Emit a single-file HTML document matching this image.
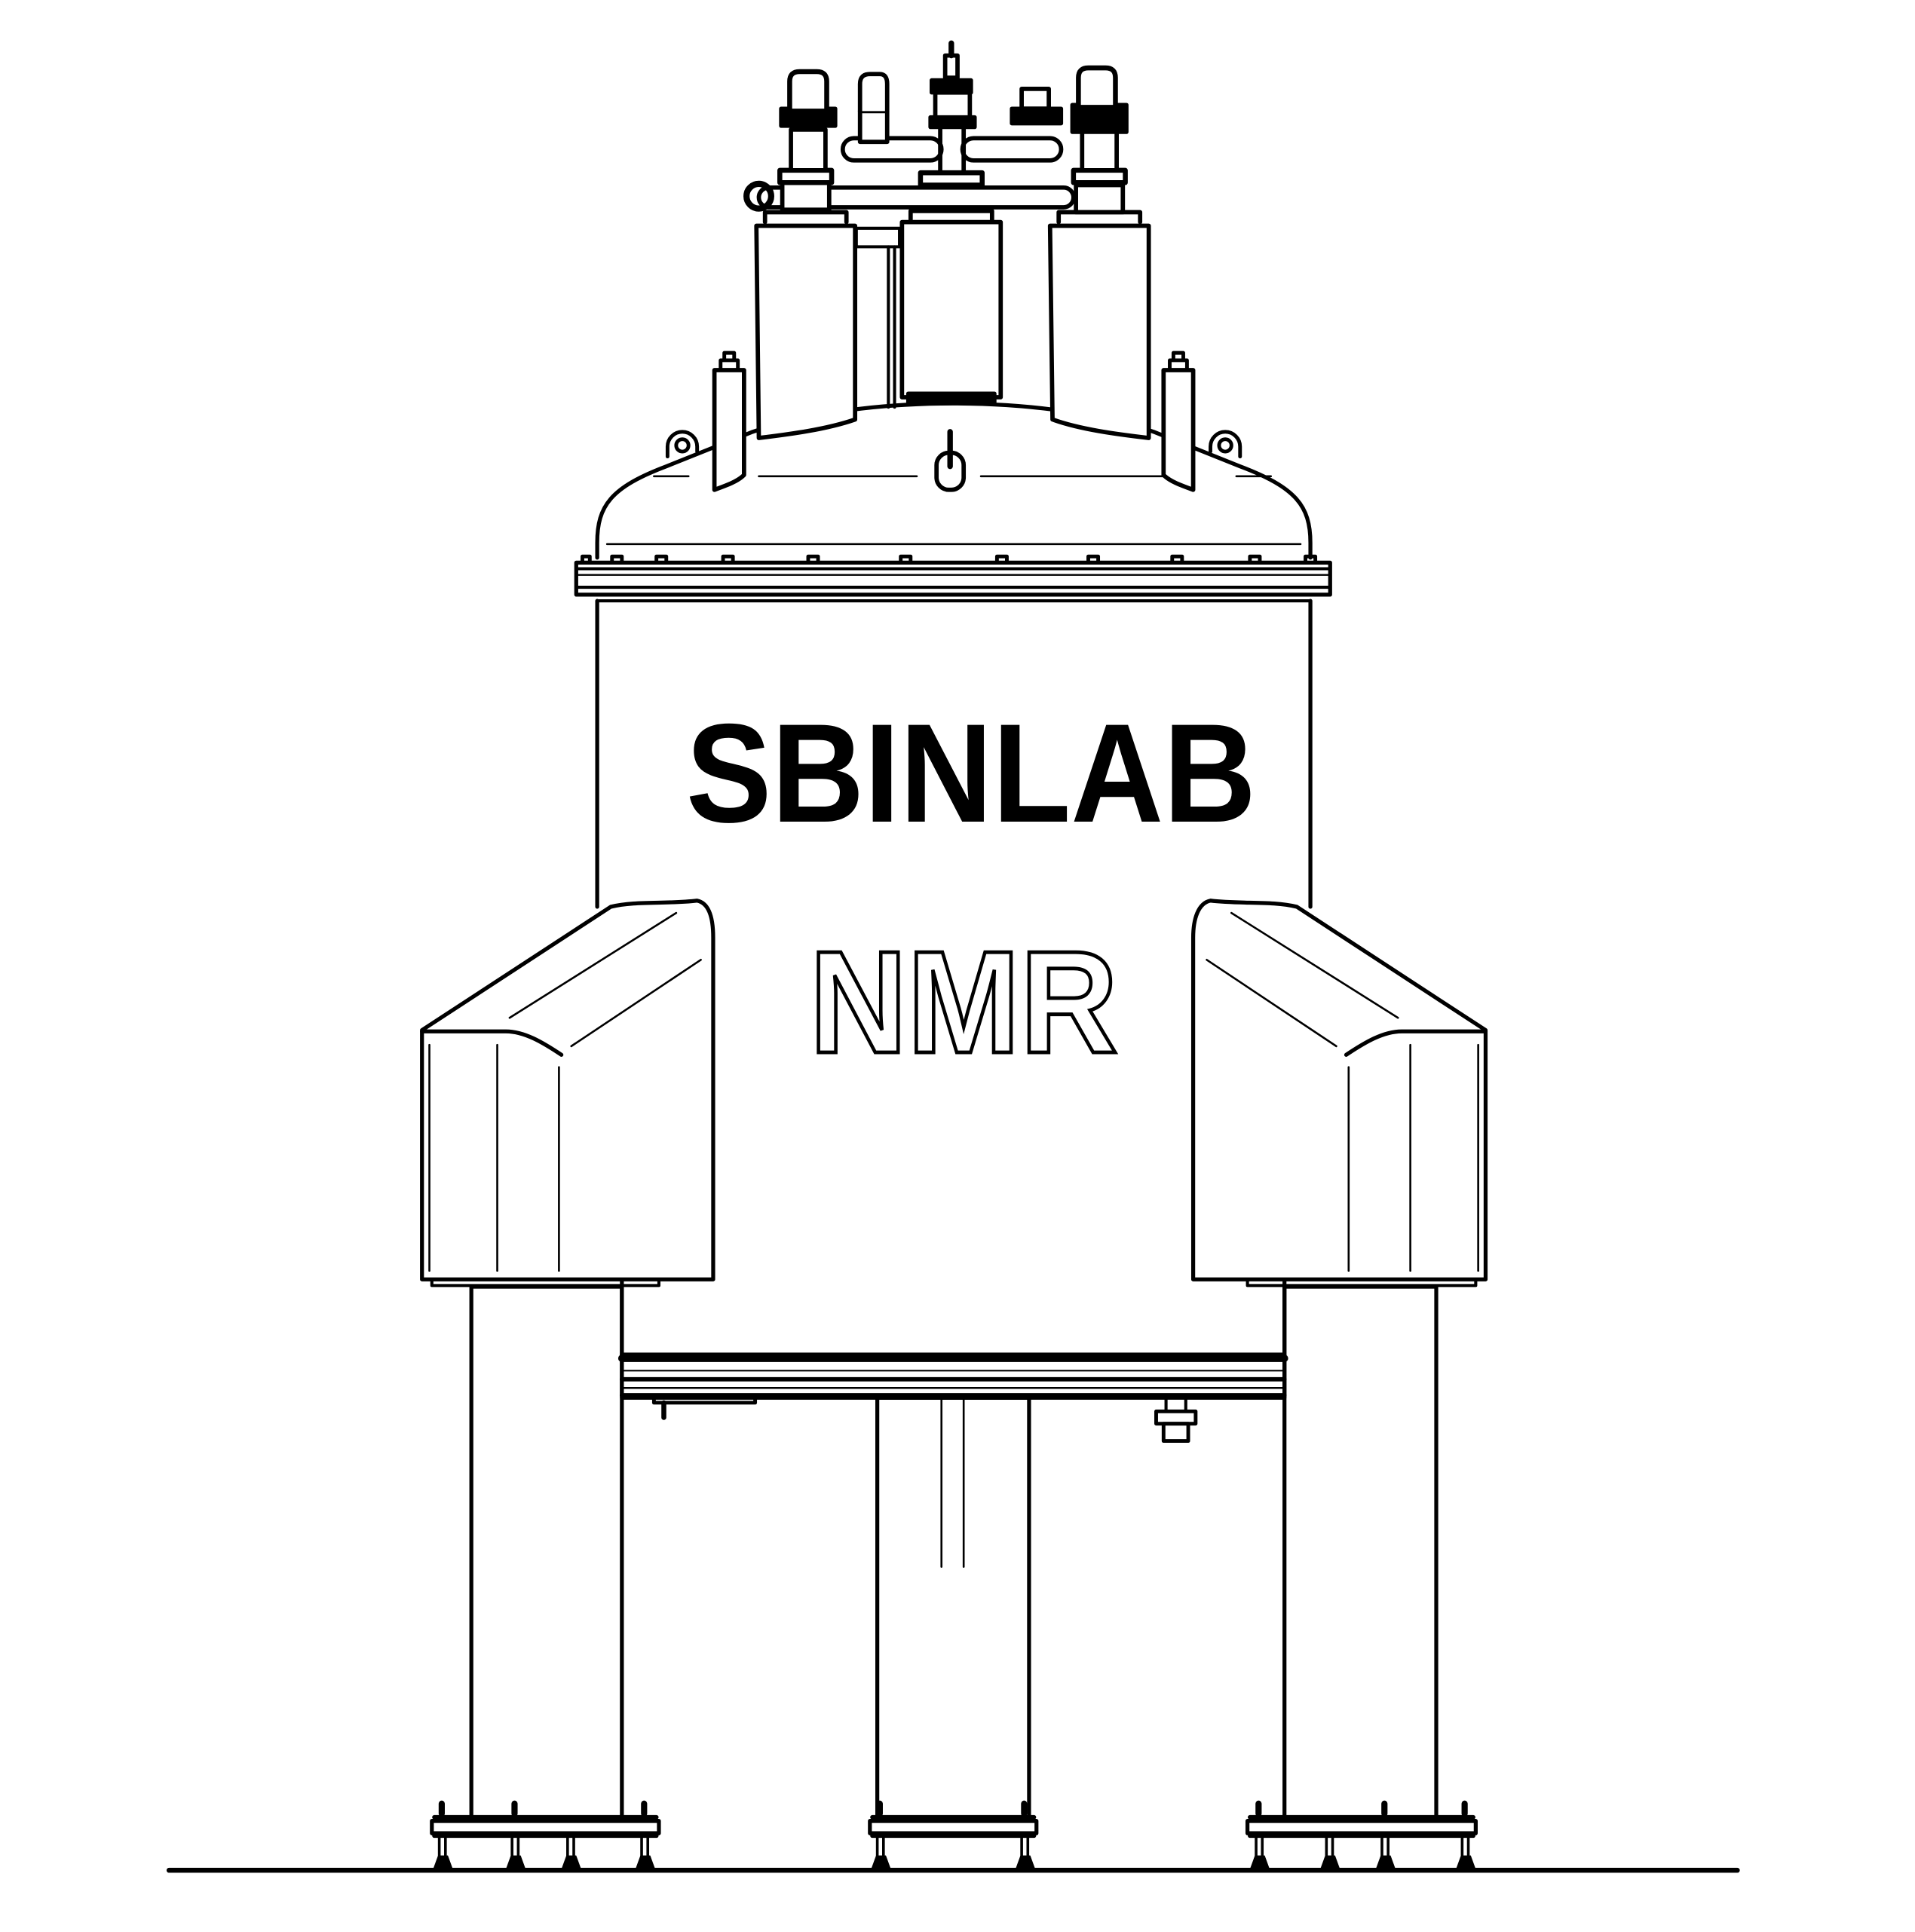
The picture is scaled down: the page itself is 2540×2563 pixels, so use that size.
<!DOCTYPE html>
<html><head><meta charset="utf-8"><style>html,body{margin:0;padding:0;background:#fff}svg{display:block}</style></head>
<body>
<svg width="2540" height="2563" viewBox="0 0 1552 1566" xmlns="http://www.w3.org/2000/svg">
<rect width="1552" height="1566" fill="#fff"/>
<g fill="none" stroke="#000" stroke-width="3.2" stroke-linejoin="round" stroke-linecap="round">
<line x1="137" y1="1516" x2="1408" y2="1516" stroke-width="4"/>
<rect x="382" y="1043" width="122" height="432"/>
<rect x="1041" y="1043" width="123" height="432"/>
<rect x="711" y="1133" width="123" height="342"/>
<line x1="763" y1="1133" x2="763" y2="1270" stroke-width="1.6"/>
<line x1="781" y1="1133" x2="781" y2="1270" stroke-width="1.6"/>
<rect x="350" y="1476" width="184" height="10"/>
<line x1="352" y1="1473" x2="532" y2="1473" stroke-width="3.5"/>
<line x1="352" y1="1488" x2="532" y2="1488" stroke-width="3.5"/>
<rect x="705" y="1476" width="135" height="10"/>
<line x1="707" y1="1473" x2="838" y2="1473" stroke-width="3.5"/>
<line x1="707" y1="1488" x2="838" y2="1488" stroke-width="3.5"/>
<rect x="1011" y="1476" width="185" height="10"/>
<line x1="1013" y1="1473" x2="1194" y2="1473" stroke-width="3.5"/>
<line x1="1013" y1="1488" x2="1194" y2="1488" stroke-width="3.5"/>
<g stroke-width="2.2">
<path d="M358,1470v-8 M417,1470v-8 M522,1470v-8 M713,1470v-8 M830,1470v-8 M1020,1470v-8 M1122,1470v-8 M1187,1470v-8" stroke-width="5"/>
<path d="M356,1488v20 M361,1488v20 M415,1488v20 M420,1488v20 M460,1488v20 M465,1488v20 M520,1488v20 M525,1488v20 M711,1488v20 M716,1488v20 M828,1488v20 M833,1488v20 M1018,1488v20 M1023,1488v20 M1075,1488v20 M1080,1488v20 M1120,1488v20 M1125,1488v20 M1185,1488v20 M1190,1488v20"/>
</g>
<g fill="#000" stroke="none">
<path d="M351,1515 l4,-11 h8 l4,11z M410,1515 l4,-11 h8 l4,11z M455,1515 l4,-11 h8 l4,11z M515,1515 l4,-11 h8 l4,11z M706,1515 l4,-11 h8 l4,11z M823,1515 l4,-11 h8 l4,11z M1013,1515 l4,-11 h8 l4,11z M1070,1515 l4,-11 h8 l4,11z M1115,1515 l4,-11 h8 l4,11z M1180,1515 l4,-11 h8 l4,11z"/>
</g>
<rect x="504" y="1098" width="537" height="35"/>
<line x1="504" y1="1101" x2="1041" y2="1101" stroke-width="6"/>
<line x1="504" y1="1111" x2="1041" y2="1111" stroke-width="1.3"/>
<line x1="504" y1="1118" x2="1041" y2="1118" stroke-width="3.5"/>
<line x1="504" y1="1125" x2="1041" y2="1125" stroke-width="1.5"/>
<line x1="504" y1="1131" x2="1041" y2="1131" stroke-width="3.5"/>
<path d="M530,1133 v4 h82 v-4" stroke-width="3"/>
<line x1="538" y1="1137" x2="538" y2="1149" stroke-width="4"/>
<rect x="937" y="1144" width="32" height="10" stroke-width="3"/>
<rect x="943" y="1154" width="20" height="14" stroke-width="3"/>
<line x1="945" y1="1133" x2="945" y2="1144" stroke-width="2.5"/>
<line x1="961" y1="1133" x2="961" y2="1144" stroke-width="2.5"/>
<line x1="484" y1="487" x2="484" y2="735"/>
<line x1="1062" y1="487" x2="1062" y2="735"/>
<line x1="504" y1="1037" x2="504" y2="1098"/>
<line x1="1041" y1="1037" x2="1041" y2="1098"/>
<path d="M342,835 L495,735 C515,730 540,733 565,730 C575,732 578,745 578,760 L578,1037 L342,1037 Z" fill="#fff"/>
<path d="M342,836 L410,836 C425,836 440,845 455,855"/>
<line x1="413" y1="825" x2="548" y2="740" stroke-width="1.6"/>
<line x1="463" y1="848" x2="568" y2="778" stroke-width="1.6"/>
<line x1="348" y1="847" x2="348" y2="1030" stroke-width="1.6"/>
<line x1="403" y1="847" x2="403" y2="1030" stroke-width="1.6"/>
<line x1="453" y1="865" x2="453" y2="1030" stroke-width="1.6"/>
<path d="M350,1037 v5 h184 v-5" stroke-width="2.5"/>
<path d="M1204,835 L1051,735 C1031,730 1006,733 981,730 C971,732 967,745 967,760 L967,1037 L1204,1037 Z" fill="#fff"/>
<path d="M1204,836 L1136,836 C1121,836 1106,845 1091,855"/>
<line x1="1133" y1="825" x2="998" y2="740" stroke-width="1.6"/>
<line x1="1083" y1="848" x2="978" y2="778" stroke-width="1.6"/>
<line x1="1198" y1="847" x2="1198" y2="1030" stroke-width="1.6"/>
<line x1="1143" y1="847" x2="1143" y2="1030" stroke-width="1.6"/>
<line x1="1093" y1="865" x2="1093" y2="1030" stroke-width="1.6"/>
<path d="M1011,1037 v5 h185 v-5" stroke-width="2.5"/>
<rect x="467" y="456" width="611" height="26"/>
<line x1="467" y1="461" x2="1078" y2="461" stroke-width="2.5"/>
<line x1="467" y1="466" x2="1078" y2="466" stroke-width="1.5"/>
<line x1="467" y1="476" x2="1078" y2="476" stroke-width="2.5"/>
<line x1="484" y1="487" x2="1062" y2="487" stroke-width="2.5"/>
<g stroke-width="3">
<path d="M472,456v-5h6v5 M496,456v-5h8v5 M532,456v-5h8v5 M586,456v-5h8v5 M655,456v-5h8v5 M730,456v-5h8v5 M808,456v-5h8v5 M882,456v-5h8v5 M950,456v-5h8v5 M1013,456v-5h8v5 M1058,456v-5h8v5"/>
</g>
<path d="M484,452 L484,440 C484,410 495,395 540,378 L610,350 C660,333 720,327 772,327 C825,327 885,333 935,350 L1005,378 C1050,395 1062,410 1062,440 L1062,452"/>
<line x1="492" y1="441" x2="1054" y2="441" stroke-width="1.6"/>
<path d="M530,386h28 M615,386h128 M795,386h160 M1002,386h28" stroke-width="1.6"/>
<path d="M541,370 v-8 a12,12 0 0 1 24,0 v4" stroke-width="3"/>
<circle cx="553" cy="361" r="5" stroke-width="3"/>
<path d="M1005,370 v-8 a12,12 0 0 0 -24,0 v4" stroke-width="3"/>
<circle cx="993" cy="361" r="5" stroke-width="3"/>
<line x1="770" y1="350" x2="770" y2="378" stroke-width="4.5"/>
<rect x="759" y="367" width="22" height="30" rx="10" stroke-width="3.5"/>
<path d="M579,300 L603,300 L603,385 C598,390 590,393 579,397 Z" fill="#fff" stroke-width="3.5"/>
<path d="M584,300 v-8 h14 v8 M587,292 v-6 h8 v6" stroke-width="3"/>
<path d="M943,300 L967,300 L967,397 C956,393 948,390 943,385 Z" fill="#fff" stroke-width="3.5"/>
<path d="M948,300 v-8 h14 v8 M951,292 v-6 h8 v6" stroke-width="3"/>
<path d="M613,183 L693,183 L693,340 C670,348 640,352 615,355 Z" fill="#fff" stroke-width="3.5"/>
<path d="M851,183 L931,183 L931,355 C905,352 875,348 853,340 Z" fill="#fff" stroke-width="3.5"/>
<rect x="731" y="180" width="80" height="142" fill="#fff" stroke-width="3.5"/>
<rect x="736" y="319" width="70" height="7" fill="#000"/>
<rect x="694" y="185" width="35" height="15" stroke-width="2.5"/>
<line x1="720" y1="200" x2="720" y2="330" stroke-width="2.5"/>
<line x1="725" y1="200" x2="725" y2="330" stroke-width="2.5"/>
<path d="M620,180 v-8 h66 v8 M738,178 v-7 h66 v7 M858,180 v-8 h66 v8" stroke-width="3.5"/>
<rect x="615" y="152" width="255" height="16" rx="8" fill="#fff" stroke-width="3.5"/>
<circle cx="615" cy="159" r="10" stroke-width="5"/>
<rect x="634" y="148" width="38" height="22" fill="#fff" stroke-width="3.5"/>
<rect x="872" y="150" width="38" height="22" fill="#fff" stroke-width="3.5"/>
<rect x="632" y="138" width="42" height="10" stroke-width="4"/>
<rect x="870" y="138" width="42" height="10" stroke-width="4"/>
<rect x="746" y="140" width="50" height="10" stroke-width="4"/>
<rect x="641" y="105" width="28" height="33" fill="#fff" stroke-width="3.5"/>
<rect x="877" y="105" width="28" height="33" fill="#fff" stroke-width="3.5"/>
<rect x="633" y="88" width="44" height="14" fill="#000"/>
<rect x="869" y="85" width="44" height="22" fill="#000"/>
<path d="M640,88 v-22 q0,-8 8,-8 h14 q8,0 8,8 v22" fill="#fff" stroke-width="4"/>
<path d="M874,85 v-22 q0,-8 8,-8 h14 q8,0 8,8 v22" fill="#fff" stroke-width="4"/>
<rect x="683" y="112" width="80" height="18" rx="9" fill="#fff" stroke-width="3.5"/>
<rect x="780" y="112" width="80" height="18" rx="9" fill="#fff" stroke-width="3.5"/>
<rect x="697" y="90" width="22" height="25" fill="#fff" stroke-width="3.5"/>
<path d="M697,90 v-22 q0,-8 8,-8 h8 q6,0 6,8 v22" fill="#fff" stroke-width="3.5"/>
<rect x="820" y="88" width="40" height="12" fill="#000"/>
<rect x="828" y="72" width="22" height="16" fill="#fff" stroke-width="3.5"/>
<rect x="755" y="65" width="32" height="10" fill="#000"/>
<rect x="758" y="75" width="28" height="22" fill="#fff" stroke-width="3.5"/>
<rect x="754" y="95" width="36" height="8" fill="#000"/>
<line x1="762" y1="103" x2="762" y2="140" stroke-width="3.5"/>
<line x1="781" y1="103" x2="781" y2="140" stroke-width="3.5"/>
<rect x="766" y="45" width="10" height="18" stroke-width="3.5"/>
<line x1="771" y1="35" x2="771" y2="45" stroke-width="4.5"/>
</g>
<text x="556" y="666" font-family="'Liberation Sans Narrow','Liberation Sans',sans-serif" font-weight="bold" font-size="114" textLength="462" lengthAdjust="spacingAndGlyphs" fill="#000">SBINLAB</text>
<text x="656" y="853" font-family="'Liberation Sans Narrow','Liberation Sans',sans-serif" font-weight="bold" font-size="118" textLength="250" lengthAdjust="spacingAndGlyphs" fill="#fff" stroke="#000" stroke-width="3">NMR</text>
</svg>
</body></html>
